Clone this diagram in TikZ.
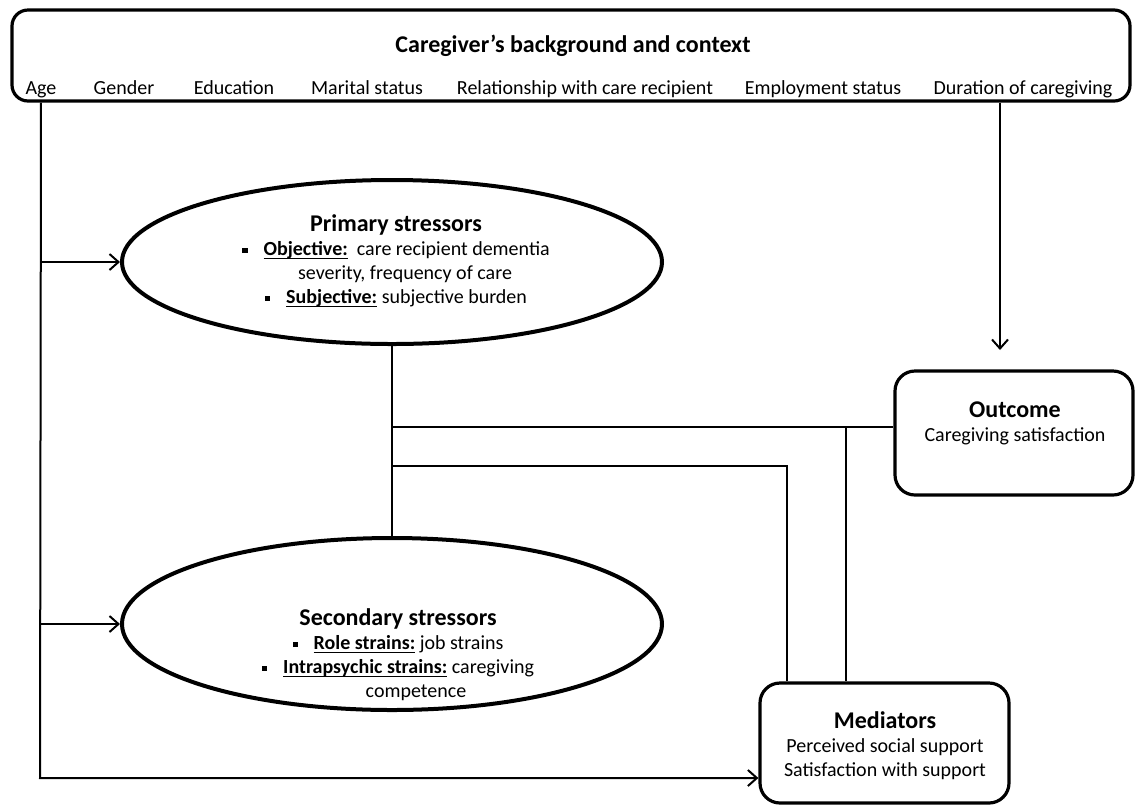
\documentclass[tikz,border=0pt]{standalone}
\usepackage{fontspec}
\setmainfont{Carlito}
\usetikzlibrary{arrows.meta,shapes.geometric}

\newlength{\ulw}
\newcommand{\sqbul}{\raisebox{0.3ex}{\rule{2.6pt}{2.6pt}}\hspace{0.8em}}
\newcommand{\ulb}[1]{\settowidth{\ulw}{\textbf{#1}}\textbf{#1}\hspace{-\ulw}\rule[-1.6pt]{\ulw}{0.6pt}}
\newcommand{\hd}[1]{{\fontsize{12}{12}\selectfont\bfseries #1}}

\begin{document}
\begin{tikzpicture}[x=0.5pt,y=-0.5pt,
  box/.style={draw,line width=1.6pt,rounded corners=8pt,inner sep=0pt},
  oval/.style={draw,ellipse,line width=2pt,inner sep=0pt,minimum width=270pt,minimum height=82pt},
  txt/.style={align=center,inner sep=1pt,font=\fontsize{10}{12}\selectfont},
  item/.style={txt,anchor=base},
  ln/.style={line width=1pt},
  arr/.style={ln,-{Straight Barb[length=4.5pt,width=8pt]}}]
\useasboundingbox (0,0) rectangle (1135,805);

% caregiver's background and context
\node[box,minimum width=559pt,minimum height=45.5pt] (ctx) at (571,55.5) {};
\node[txt] (ctxtitle) at (573,46) {\hd{Caregiver’s background and context}};
\node[item] (age) at (41,94) {Age};
\node[item] (gender) at (124,94) {Gender};
\node[item] (edu) at (234,94) {Education};
\node[item] (marital) at (367,94) {Marital status};
\node[item] (relation) at (585,94) {Relationship with care recipient};
\node[item] (employ) at (823,94) {Employment status};
\node[item] (dur) at (1023,94) {Duration of caregiving};

% stressors
\node[oval] (prim) at (392,262) {};
\node[txt] (primtxt) at (396,261) {\hd{Primary stressors}\\
  \sqbul\ulb{Objective:}\ \ care recipient dementia\\
  \hspace*{9pt}severity, frequency of care\\
  \sqbul\ulb{Subjective:} subjective burden};
\node[oval,minimum height=86pt] (sec) at (392,624) {};
\node[txt] (sectxt) at (398,655) {\hd{Secondary stressors}\\
  \sqbul\ulb{Role strains:} job strains\\
  \sqbul\ulb{Intrapsychic strains:} caregiving\\
  \hspace*{18pt}competence};

% outcome and mediators
\node[box,rounded corners=10pt,minimum width=119pt,minimum height=62pt] (out) at (1014,433) {};
\node[txt] (outtxt) at (1015,423) {\hd{Outcome}\\Caregiving satisfaction};
\node[box,rounded corners=10pt,minimum width=124.5pt,minimum height=60pt] (med) at (884.5,743) {};
\node[txt] (medtxt) at (885,746) {\hd{Mediators}\\Perceived social support\\Satisfaction with support};

% connectors
\coordinate (bend) at (40,778);
\coordinate (durtip) at (1000,350);
\coordinate (j1) at (391,427);
\coordinate (j2) at (391,466);
\coordinate (j3) at (846,427);
\draw[arr] (age |- ctx.south) -- (bend) -- (bend -| med.west);
\draw[arr] (age |- prim.west) -- (prim.west);
\draw[arr] (age |- sec.west) -- (sec.west);
\draw[arr] (durtip |- ctx.south) -- (durtip);
\draw[ln] (prim.south) -- (sec.north);
\draw[ln] (j1) -- (j1 -| out.west);
\draw[ln] (j2) -| ([xshift=14.5pt]med.north west);
\draw[ln] (j3) -- (j3 |- med.north);
\end{tikzpicture}
\end{document}
